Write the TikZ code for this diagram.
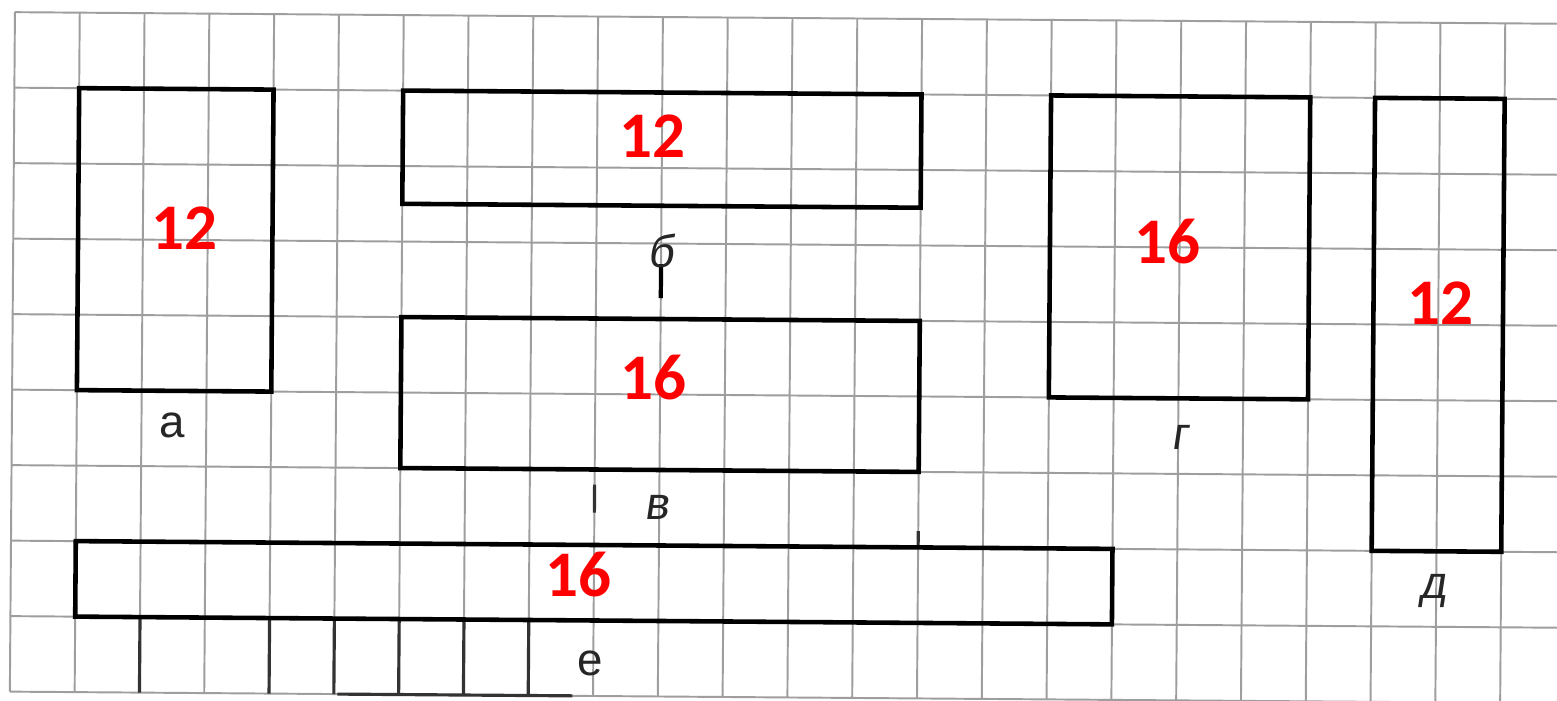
\documentclass[tikz,border=0pt]{standalone}
\usepackage{fontspec}
\setmainfont{Liberation Sans}
\newfontfamily\numfont{Carlito}
\newfontfamily\slfont[FakeSlant=0.15]{Liberation Sans}
\tikzset{
  gridline/.style={draw=black!38, line width=0.55pt},
  darkseg/.style={draw=black!80, line width=0.9pt},
  figbox/.style={draw=black, line width=1.3pt},
  area/.style={text=red, inner sep=0pt, font=\numfont\bfseries\fontsize{18.5}{20}\selectfont},
  letter/.style={text=black!85, inner sep=0pt, font=\fontsize{13}{15}\selectfont},
  sletter/.style={letter, font=\slfont\fontsize{13}{15}\selectfont}
}
\newcommand{\GX}[1]{12.4+64.8*#1}
\newcommand{\GY}[1]{17.9+75.5*#1}
\begin{document}
\begin{tikzpicture}[x=0.01cm,y=-0.01cm]
\useasboundingbox (0,0) rectangle (1557,701);
\fill[white] (0,0) rectangle (1557,701);
\begin{scope}[rotate around={-0.43:(778,350)}]
% grid
\foreach \i in {0,...,23}{
  \draw[gridline] ({\GX{\i}},{\GY{0}}) -- ({\GX{\i}},{\GY{9}});
}
\foreach \j in {0,...,9}{
  \draw[gridline] ({\GX{0}},{\GY{\j}}) -- (1570,{\GY{\j}});
}
% darker scan segments
\foreach \i in {2,4,5,6,7,8}{
  \draw[darkseg] ({\GX{\i}},{\GY{8}}) -- ({\GX{\i}},{\GY{9}});
}
\draw[darkseg] (340,{\GY{9}}) -- (575,{\GY{9}});
\draw[line width=1.2pt] ({\GX{10}},265) -- ({\GX{10}},299);
\draw[darkseg] ({\GX{9}},486) -- ({\GX{9}},514);
\draw[darkseg] ({\GX{14}},530) -- ({\GX{14}},545);
% rectangles (grid cells)
\path ({\GX{1}},{\GY{1}}) coordinate (a1) ({\GX{4}},{\GY{5}}) coordinate (a2);
\path ({\GX{6}},{\GY{1}}) coordinate (b1) ({\GX{14}},{\GY{2.5}}) coordinate (b2);
\path ({\GX{6}},{\GY{4}}) coordinate (v1) ({\GX{14}},{\GY{6}}) coordinate (v2);
\path ({\GX{16}},{\GY{1}}) coordinate (g1) ({\GX{20}},{\GY{5}}) coordinate (g2);
\path ({\GX{21}},{\GY{1}}) coordinate (d1) ({\GX{23}},{\GY{7}}) coordinate (d2);
\path ({\GX{1}},{\GY{7}}) coordinate (e1) ({\GX{17}},{\GY{8}}) coordinate (e2);
\draw[figbox] (a1) rectangle (a2);
\draw[figbox] (b1) rectangle (b2);
\draw[figbox] (v1) rectangle (v2);
\draw[figbox] (g1) rectangle (g2);
\draw[figbox] (d1) rectangle (d2);
\draw[figbox] (e1) rectangle (e2);
\end{scope}
% areas
\node[area] (na) at (184,228) {12};
\node[area] (nb) at (652,136) {12};
\node[area] (nv) at (653,378) {16};
\node[area] (ng) at (1167,242) {16};
\node[area] (nd) at (1440,303) {12};
\node[area] (ne) at (578,575) {16};
% letters
\node[letter] (la) at (172,425) {а};
\node[sletter] (lb) at (661,251) {б};
\node[sletter] (lv) at (657,507) {в};
\node[sletter] (lg) at (1180,437) {г};
\node[sletter] (ld) at (1433,591) {д};
\node[letter] (le) at (590,663) {е};
\end{tikzpicture}
\end{document}
